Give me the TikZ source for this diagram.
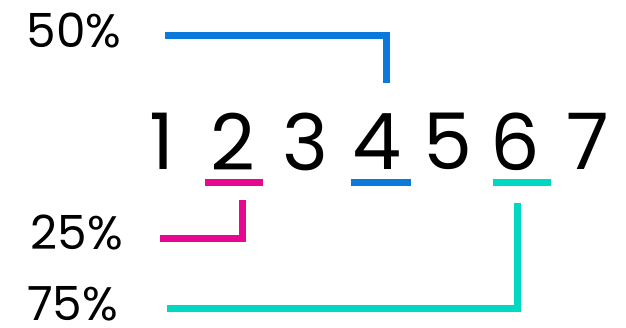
\documentclass[tikz,border=0pt]{standalone}
\usepackage{fontspec}
\setmainfont{Poppins}
\definecolor{cblue}{HTML}{0B78DC}
\definecolor{cpink}{HTML}{E8078F}
\definecolor{ccyan}{HTML}{00D9C2}
\begin{document}
\begin{tikzpicture}[x=1pt,y=1pt,
  digit/.style={inner sep=0pt,font=\fontsize{78}{78}\selectfont},
  pct/.style={inner sep=0pt,font=\fontsize{47}{47}\selectfont},
  bar/.style={line width=7pt,line cap=butt,line join=miter}]
\useasboundingbox[fill=white] (0,0) rectangle (626,327);
% digits
\node[digit] (d1) at (162,185.5) {1};
\node[digit] (d2) at (233,185.5) {2};
\node[digit] (d3) at (305,185.5) {3};
\node[digit] (d4) at (377,185.5) {4};
\node[digit] (d5) at (448,185.5) {5};
\node[digit] (d6) at (515,185.5) {6};
\node[digit] (d7) at (588,185.5) {7};
% labels
\node[pct] (p50) at (74,296) {50\%};
\node[pct] (p25) at (77,94.5) {25\%};
\node[pct] (p75) at (72.5,23.5) {75\%};
% underlines
\coordinate (u2a) at (205,144.5); \coordinate (u2b) at (263,144.5);
\coordinate (u4a) at (351,144.5); \coordinate (u4b) at (411,144.5);
\coordinate (u6a) at (493,144.5); \coordinate (u6b) at (551,144.5);
\draw[bar,cpink] (u2a) -- (u2b);
\draw[bar,cblue] (u4a) -- (u4b);
\draw[bar,ccyan] (u6a) -- (u6b);
% brackets
\coordinate (b50s) at (165,291); \coordinate (b50e) at (386,244);
\coordinate (b25s) at (160,89);  \coordinate (b25e) at (242.5,127);
\coordinate (b75s) at (167,19);  \coordinate (b75e) at (517.5,124);
\draw[bar,cblue] (b50s) -| (b50e);
\draw[bar,cpink] (b25s) -| (b25e);
\draw[bar,ccyan] (b75s) -| (b75e);
\end{tikzpicture}
\end{document}
